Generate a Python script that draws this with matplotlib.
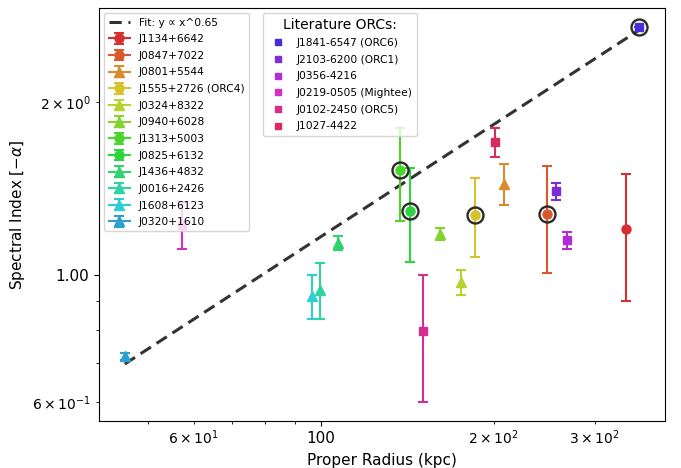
import numpy as np
import matplotlib
matplotlib.use("Agg")
import matplotlib.pyplot as plt
from matplotlib.lines import Line2D
from matplotlib.ticker import ScalarFormatter

# New ORC candidates
names = ['J1134+6642', 'J0847+7022', 'J0801+5544', 'J1555+2726 (ORC4)',
         'J0324+8322', 'J0940+6028', 'J1313+5003', 'J0825+6132',
         'J1436+4832', 'J0016+2426', 'J1608+6123', 'J0320+1610']
radius = [341.0, 248.0, 208.6, 185.8, 175.4, 161.3, 137.2, 142.9, 107.2, 99.7, 96.4, 45.5]
spec_index = [1.20, 1.278, 1.441, 1.273, 0.970, 1.178, 1.521, 1.293, 1.136, 0.942, 0.917, 0.720]
spec_err = [0.30, 0.27, 0.12, 0.20, 0.05, 0.028, 0.28, 0.24, 0.03, 0.105, 0.08, 0.011]
markers = ['o', 'o', '^', 'o', '^', '^', 'o', 'o', '^', '^', '^', '^']
ringed = [False, True, False, True, False, False, True, True, False, False, False, False]
colors = ['#d62f2f', '#d9592c', '#d98b2d', '#d6c22d', '#b5d42d', '#84d42d',
          '#4cd42d', '#2dd43d', '#2dd46e', '#2dd4a3', '#2dcfd2', '#2d9fd0']

# Literature ORCs
lit_names = ['J1841-6547 (ORC6)', 'J2103-6200 (ORC1)', 'J0356-4216',
             'J0219-0505 (Mightee)', 'J0102-2450 (ORC5)', 'J1027-4422']
lit_radius = [359.0, 256.7, 268.8, 57.2, 150.6, 201.2]
lit_index = [2.709, 1.398, 1.148, 1.223, 0.798, 1.702]
lit_err = [0.0, 0.048, 0.038, 0.115, 0.199, 0.10]
lit_ringed = [True, False, False, False, False, False]
lit_colors = ['#4a2dd6', '#7d2dd6', '#b02dd6', '#d62dc6', '#d62d92', '#d62d5c']

# power-law fit
fit_slope = 0.65
fit_norm = 0.0584

fig, ax = plt.subplots(figsize=(6.81, 4.68), dpi=100)
fig.subplots_adjust(left=0.1454, right=0.9765, top=0.983, bottom=0.1004)

all_r = radius + lit_radius
xfit = np.logspace(np.log10(min(all_r)), np.log10(max(all_r)), 50)
fit_line, = ax.plot(xfit, fit_norm * xfit ** fit_slope, '--', color='#333333',
                    lw=2.2, dashes=(4, 2.2), label='Fit: y \u221d x^0.65', zorder=1)

handles = [fit_line]
for i in range(len(names)):
    h = ax.errorbar(radius[i], spec_index[i], yerr=spec_err[i], marker=markers[i],
                    color=colors[i], ms=6.5, capsize=3.5, elinewidth=1.5,
                    capthick=1.5, label=names[i], zorder=3)
    handles.append(h)
    if ringed[i]:
        ax.plot(radius[i], spec_index[i], 'o', mfc='none', mec='#2a2a2a',
                ms=11.5, mew=1.7, zorder=4)

lit_handles = []
for i in range(len(lit_names)):
    ax.errorbar(lit_radius[i], lit_index[i], yerr=lit_err[i], marker='s',
                color=lit_colors[i], ms=6, capsize=3.5, elinewidth=1.5,
                capthick=1.5, ls='none', zorder=3)
    if lit_ringed[i]:
        ax.plot(lit_radius[i], lit_index[i], 'o', mfc='none', mec='#2a2a2a',
                ms=11.5, mew=1.7, zorder=4)
    lit_handles.append(Line2D([], [], marker='s', ls='none', color=lit_colors[i],
                              ms=4.5, label=lit_names[i]))

ax.set_xscale('log')
ax.set_yscale('log')
ax.xaxis.set_major_formatter(ScalarFormatter())
ax.yaxis.set_major_formatter(ScalarFormatter())
ax.tick_params(labelsize=11)
ax.set_xlabel('Proper Radius (kpc)', fontsize=11)
ax.set_ylabel('Spectral Index [$-\\alpha$]', fontsize=11)

leg1 = ax.legend(handles=handles, loc='upper left', fontsize=7.7, labelspacing=0.62)
ax.add_artist(leg1)
ax.legend(handles=lit_handles, loc='upper left', bbox_to_anchor=(0.280, 1.0),
          fontsize=7.7, labelspacing=0.62, title='Literature ORCs:', title_fontsize=10)

fig.savefig('out.png', dpi=100)
